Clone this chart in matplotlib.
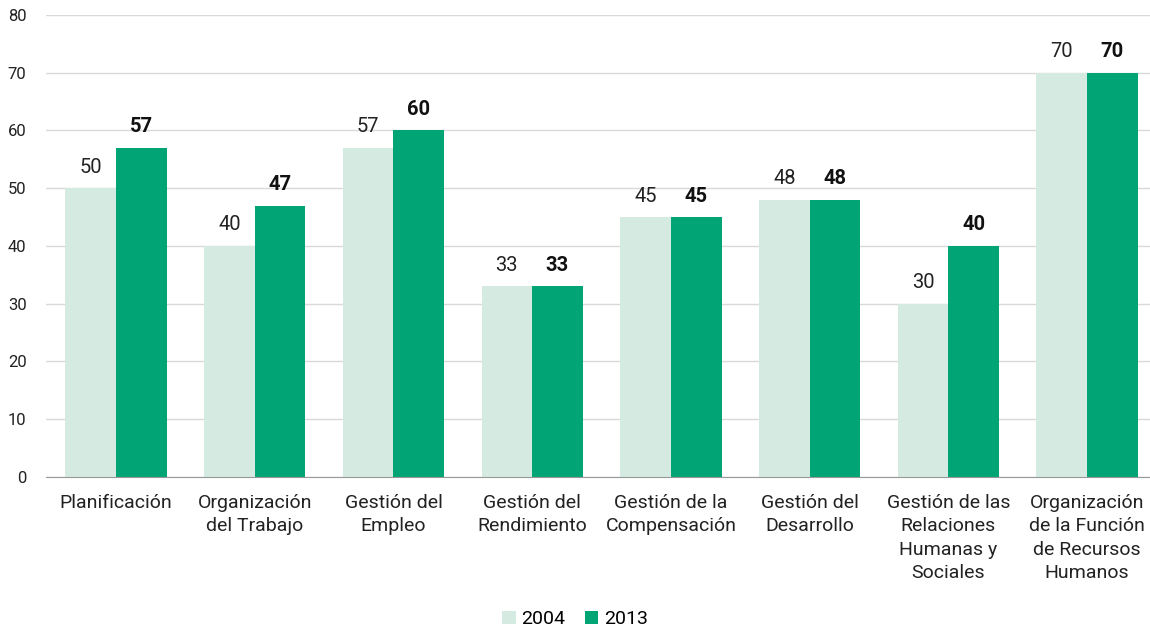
import matplotlib
matplotlib.use("Agg")
import matplotlib.pyplot as plt
import numpy as np

plt.rcParams['font.family'] = ['Roboto', 'DejaVu Sans']

# chart data
categories = ["Planificación", "Organización\ndel Trabajo", "Gestión del\nEmpleo",
              "Gestión del\nRendimiento", "Gestión de la\nCompensación", "Gestión del\nDesarrollo",
              "Gestión de las\nRelaciones\nHumanas y\nSociales",
              "Organización\nde la Función\nde Recursos\nHumanos"]
values_2004 = [50, 40, 57, 33, 45, 48, 30, 70]
values_2013 = [57, 47, 60, 33, 45, 48, 40, 70]
series_labels = ["2004", "2013"]

light = "#d5ebe1"
dark = "#00a475"

fig = plt.figure(figsize=(11.5, 6.29), dpi=100)
ax = fig.add_axes([0.04, 0.2417, 0.96, 0.7345])

x = np.arange(len(categories))
w = 0.365
b1 = ax.bar(x - w / 2, values_2004, w, color=light, label=series_labels[0])
b2 = ax.bar(x + w / 2, values_2013, w, color=dark, label=series_labels[1])

for rect, v in zip(b1, values_2004):
    ax.text(rect.get_x() + rect.get_width() / 2, v + 2.0, str(v),
            ha="center", va="bottom", fontsize=14.5, color="#222222")
for rect, v in zip(b2, values_2013):
    ax.text(rect.get_x() + rect.get_width() / 2, v + 2.0, str(v),
            ha="center", va="bottom", fontsize=14.5, fontweight="bold", color="#111111")

ax.set_xlim(-0.505, 7.454)
ax.set_ylim(0, 80)
ax.set_yticks(range(0, 81, 10))
ax.yaxis.grid(True, color="#d9d9d9", linewidth=1)
ax.set_axisbelow(True)
for s in ["top", "right", "left"]:
    ax.spines[s].set_visible(False)
ax.spines["bottom"].set_color("#999999")
ax.tick_params(axis="y", length=0, labelsize=12, colors="#222222", pad=14)
ax.tick_params(axis="x", length=0, labelsize=14, colors="#222222", pad=12)
ax.set_xticks(x)
ax.set_xticklabels(categories, linespacing=1.4, va="top")

fig.legend(handles=[b1, b2], labels=series_labels, loc="lower center",
           bbox_to_anchor=(0.5, -0.027), ncol=2, frameon=False, fontsize=14,
           handlelength=0.7, handleheight=0.7, handletextpad=0.3, columnspacing=1.0)

fig.savefig("out.png", dpi=100)
